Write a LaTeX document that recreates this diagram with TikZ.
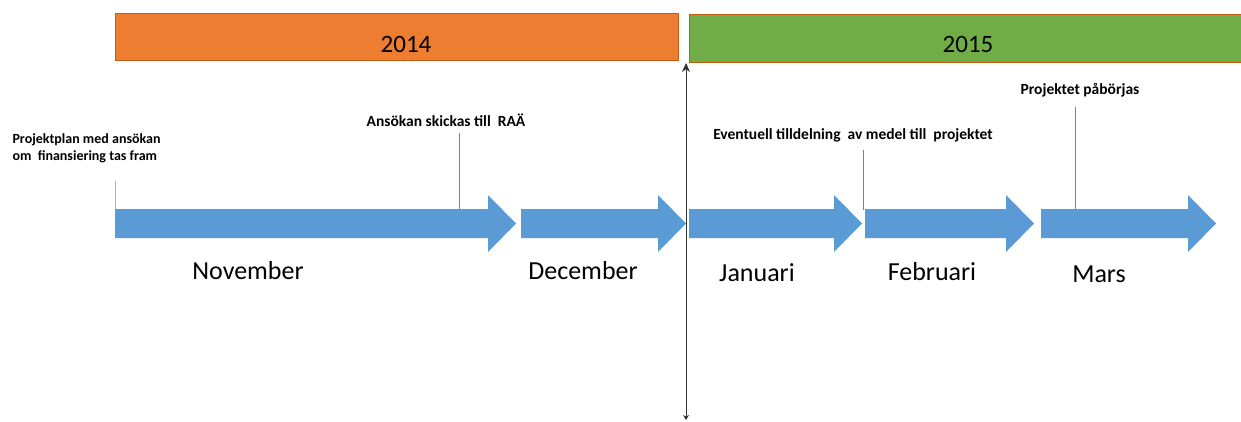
\documentclass[tikz,border=0pt]{standalone}
\usepackage{fontspec}
\setmainfont{Carlito}
\usetikzlibrary{arrows.meta}
\definecolor{orangebar}{HTML}{ED7D31}
\definecolor{greenbar}{HTML}{70AD47}
\definecolor{barborder}{HTML}{C55A11}
\definecolor{bluearrow}{HTML}{5B9BD5}
\definecolor{tickblue}{HTML}{4A8BD0}
\tikzset{
  x=1pt, y=-1pt,
  yearbar/.style={draw=barborder, line width=0.8pt},
  yeartext/.style={font=\fontsize{25}{30}\selectfont, text=black},
  monthtext/.style={font=\fontsize{26}{30}\selectfont, text=black},
  eventtext/.style={font=\bfseries\fontsize{15.5}{18}\selectfont, text=black, align=left},
  eventtextsmall/.style={font=\bfseries\fontsize{14}{17}\selectfont, text=black, align=left},
  tickline/.style={draw=tickblue, line width=0.9pt},
  blockarrow/.style={fill=bluearrow, draw=none},
}
\newcommand{\blockarr}[4]{% x0, head base, tip, name
  \fill[blockarrow] (#1,209) -- (#2,209) -- (#2,195) -- (#3,223.5) -- (#2,252) -- (#2,238) -- (#1,238) -- cycle;
  \coordinate (#4) at (#1,209);
}
\begin{document}
\begin{tikzpicture}
\useasboundingbox (0,0) rectangle (1241,421);
% year bars
\draw[yearbar, fill=orangebar] (115,13) rectangle (678,60);
\node[yeartext] (y2014) at (406,44) {2014};
\draw[yearbar, fill=greenbar] (689,14) rectangle (1245,62);
\node[yeartext] (y2015) at (968,44) {2015};
% divider
\coordinate (divtop) at (686,63);
\coordinate (divbot) at (686,420);
\draw[line width=0.8pt, black!80, {Stealth[length=5pt,width=6pt]}-{Stealth[length=9pt,width=8pt]}] (divbot) -- (divtop);
% arrows
\blockarr{115}{488}{516}{a1}
\blockarr{521}{658}{686}{a2}
\blockarr{689}{834}{862}{a3}
\blockarr{865}{1006}{1034}{a4}
\blockarr{1041}{1188}{1216}{a5}
% event labels and ticks
\node[eventtextsmall, anchor=west] (e1) at (9,148) {Projektplan med ansökan\\om\ \ finansiering tas fram};
\coordinate (t1top) at (115,181);
\coordinate (t1bot) at (115,209);
\draw[tickline, draw=tickblue!60] (t1top) -- (t1bot);
\node[eventtext] (e2) at (446,120) {Ansökan skickas till\ \ RAÄ};
\coordinate (t2top) at (459,133);
\coordinate (t2bot) at (459,209);
\draw[tickline] (t2top) -- (t2bot);
\node[eventtext] (e3) at (853,135) {Eventuell tilldelning\ \ av medel till\ \ projektet};
\coordinate (t3top) at (863,150);
\coordinate (t3bot) at (863,210);
\draw[tickline] (t3top) -- (t3bot);
\node[eventtext] (e4) at (1080,90) {Projektet påbörjas};
\coordinate (t4top) at (1075,107);
\coordinate (t4bot) at (1075,209);
\draw[tickline] (t4top) -- (t4bot);
% months
\node[monthtext] (m1) at (248,271) {November};
\node[monthtext] (m2) at (583,271) {December};
\node[monthtext] (m3) at (757,273) {Januari};
\node[monthtext] (m4) at (932,272) {Februari};
\node[monthtext] (m5) at (1099,274) {Mars};
\end{tikzpicture}
\end{document}
